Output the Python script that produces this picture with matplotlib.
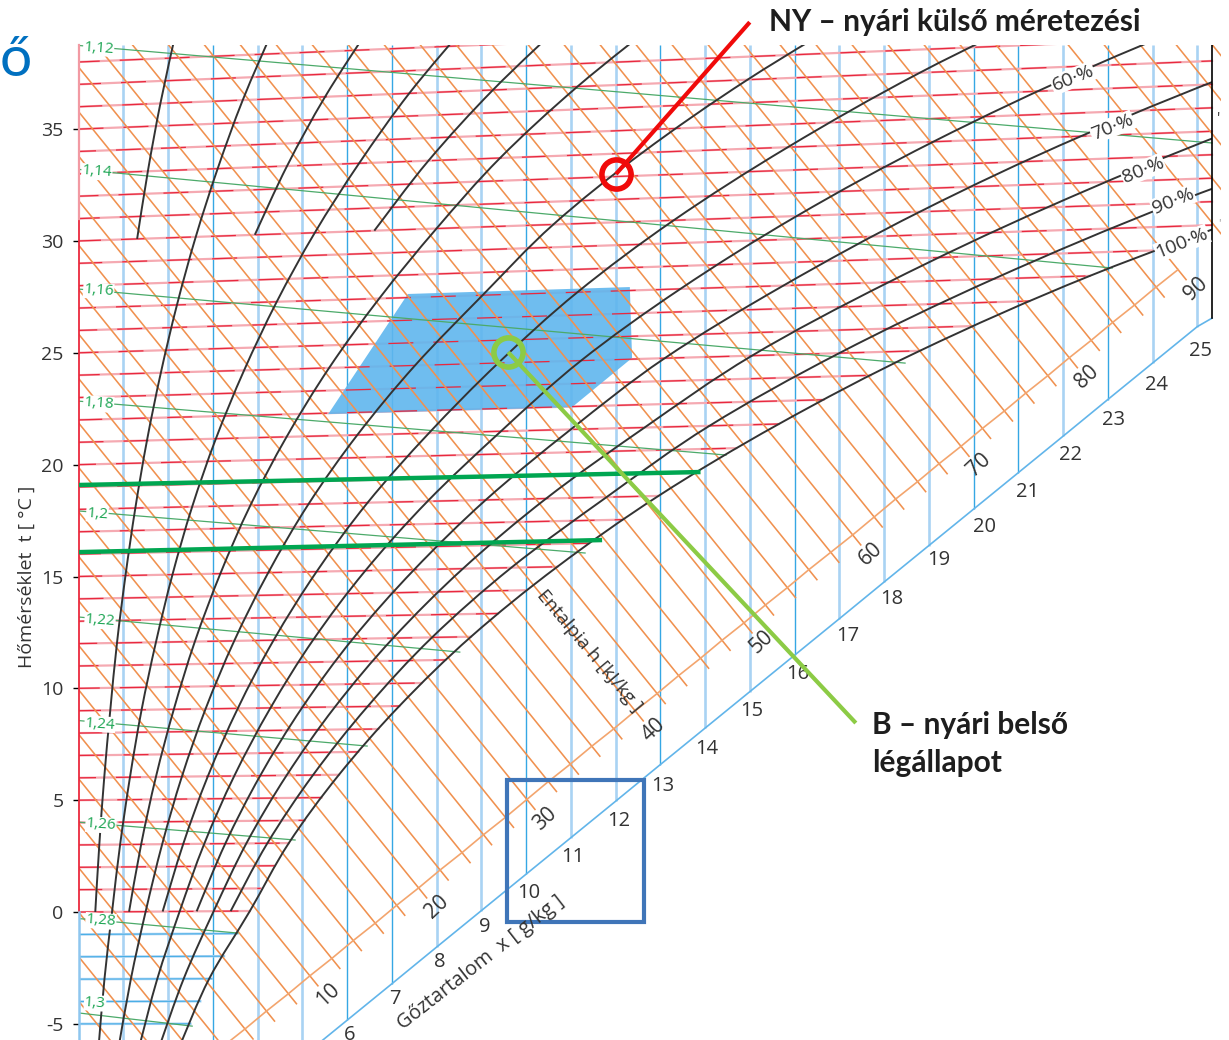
import numpy as np
import matplotlib
matplotlib.use("Agg")
import matplotlib.pyplot as plt
from matplotlib.transforms import Transform
from matplotlib.patches import Rectangle, Polygon, PathPatch
from matplotlib.path import Path

# ---- data ----
temp_ticks = [-5, 0, 5, 10, 15, 20, 25, 30, 35]
sat_t = list(range(-6, 29))
sat_x = [2.3, 2.5, 2.72, 2.98, 3.25, 3.55, 3.83, 4.07, 4.38, 4.7, 5.06, 5.43, 5.82, 6.25, 6.7, 7.17, 7.66,
         8.2, 8.77, 9.37, 10.0, 10.7, 11.4, 12.15, 12.96, 13.8, 14.7, 15.65, 16.65, 17.7, 18.8, 20.0, 21.25, 22.6, 24.0]
upper_isotherms = list(range(29, 40))

x_lines = list(range(1, 26))
x_line_end = [-13.0, -11.37, -9.73, -8.1, -6.47, -4.84, -3.21, -1.57, 0.06, 1.69, 3.32, 4.95, 6.59, 8.22, 9.85,
              11.48, 13.11, 14.75, 16.38, 18.01, 19.64, 21.27, 22.91, 24.54, 26.17]
x_bright = [3, 6, 7, 10, 13, 16, 20, 21, 23]
x_labels = list(range(6, 26))
x_label_dx = [3, 3, 3.5, 3, 3, 2, 3.5, 3, 2, 2, 3.5, 8, 8, 10, 10.5, 9, 7, 6, 3.5, 3]
x_label_dy = [15, 15.4, 15, 16, 19, 19, 20, 21, 21, 19, 19, 17, 17, 14, 17.5, 19, 18.4, 20, 22, 24]

h_axis = list(range(-6, 92, 2))
h_axis_x = [1.29, 1.77, 2.26, 2.75, 3.23, 3.72, 4.20, 4.69, 5.17, 5.66, 6.14, 6.63, 7.11, 7.6, 8.08, 8.57, 9.05,
            9.54, 10.02, 10.5, 10.99, 11.47, 11.96, 12.44, 12.93, 13.41, 13.9, 14.38, 14.87, 15.35, 15.84, 16.32,
            16.81, 17.3, 17.78, 18.26, 18.75, 19.23, 19.72, 20.2, 20.69, 21.17, 21.66, 22.14, 22.63, 23.11, 23.6,
            24.08, 24.57]
h_upper = list(range(94, 124, 2))
h_labels = [10, 20, 30, 40, 50, 60, 70, 80, 90]

t3 = [-6, -3, 0, 3, 6, 9, 12, 15, 18, 21, 24, 27, 30, 33, 36, 39]
rh05 = [1.31, 1.55, 1.83, 2.16]
rh10 = [.375, .465, .575, .71, .86, 1.05, 1.27, 1.53, 1.84, 2.20, 2.62, 3.11, 3.67, 4.33]
rh15 = [3.94, 4.66, 5.51, 6.51]
rh20 = [.45, .58, .75, .93, 1.15, 1.41, 1.73, 2.10, 2.54, 3.07, 3.70, 4.43, 5.28, 6.27, 7.39, 8.71]
rh25 = [6.61, 7.82, 9.26, 10.93]
rh30 = [1.13, 1.40, 1.73, 2.13, 2.60, 3.17, 3.84, 4.65, 5.60, 6.72, 8.0, 9.42, 11.15, 13.16]
rh40 = [.90, 1.17, 1.50, 1.87, 2.31, 2.84, 3.48, 4.24, 5.14, 6.23, 7.52, 9.03, 10.61, 12.6, 14.95, 17.67]
rh50 = [1.88, 2.34, 2.89, 3.56, 4.36, 5.32, 6.46, 7.83, 9.38, 11.15, 13.3, 15.85, 18.8, 22.26]
rh60 = [1.36, 1.76, 2.26, 2.81, 3.48, 4.29, 5.25, 6.41, 7.8, 9.44, 11.23, 13.45, 16.05, 19.1, 22.7, 26.9]
rh70 = [2.64, 3.28, 4.06, 5.00, 6.13, 7.5, 9.1, 11.0, 13.1, 15.75, 18.8, 22.4, 26.7, 31.7]
rh80 = [1.81, 2.35, 3.02, 3.75, 4.65, 5.73, 7.03, 8.59, 10.45, 12.65, 15.05, 18.1, 21.65, 25.8, 30.8]
rh90 = [3.40, 4.22, 5.24, 6.46, 7.9, 9.67, 11.8, 14.1, 17.0, 20.45, 24.5, 29.3]
rh100 = [2.26, 2.92, 3.83, 4.7, 5.82, 7.17, 8.77, 10.7, 12.96, 15.65, 18.8, 22.6, 27.2]

rh_labels = ["60·%", "70·%", "80·%", "90·%", "100·%"]
rh_label_x = [22.22, 23.1, 23.79, 24.46, 24.66]
rh_label_y = [37.28, 35.09, 33.17, 31.78, 29.9]

rho_labels = ["1,12", "1,14", "1,16", "1,18", "1,2", "1,22", "1,24", "1,26", "1,28", "1,3"]
rho_y0 = [38.74, 33.2, 27.85, 22.84, 17.93, 13.19, 8.56, 4.02, -0.29, -4.51]
rho_x1 = [25.33, 23.1, 18.47, 14.47, 11.32, 8.52, 6.45, 4.84, 3.56, 2.54]
rho_y1 = [34.38, 28.79, 24.54, 20.43, 16.05, 11.62, 7.42, 3.22, -0.94, -5.1]
rho_label_x = [0.45, 0.41, 0.45, 0.45, 0.42, 0.48, 0.48, 0.5, 0.5, 0.37]
rho_label_y = [38.62, 33.08, 27.76, 22.71, 17.79, 13.01, 8.4, 3.89, -0.4, -4.07]

zone_x = [7.36, 12.32, 12.37, 11.03, 5.58]
zone_y = [27.63, 27.94, 24.77, 22.57, 22.26]
bar_x = [0, 13.9, 0, 11.7]
bar_y = [19.09, 19.67, 16.09, 16.63]
ny_point = (12.01, 32.99)
ny_end = (15.0, 39.78)
b_point = (9.6, 25.03)
b_end = (17.37, 8.45)
box_x = (9.58, 12.64)
box_y = (-0.45, 5.9)

# ---- figure ----
W, H = 1229, 1040
plt.rcParams["font.family"] = ["Open Sans", "DejaVu Sans"]
fig = plt.figure(figsize=(W / 100, H / 100), dpi=100)
ax = fig.add_axes([78.5 / W, 0, 1142.5 / W, 995 / H])
ax.set_xlim(0, 25.53)
ax.set_ylim(-5.72, 38.76)
for s in ax.spines.values():
    s.set_visible(False)
ax.set_xticks([])


class Mollier(Transform):
    input_dims = output_dims = 2
    is_separable = False
    has_inverse = False

    def transform_non_affine(self, values):
        x, t = np.asarray(values).T
        return np.column_stack([x, t + x * (0.0121 + 0.00191 * t)])


mol = Mollier() + ax.transData
TEXT = "#333333"
XMAX = 25.33


def h_t(h, x):
    return (h - 2.501 * x) / (1.006 + 0.00186 * x)


def smooth_path(xs, ts):
    p = np.column_stack([xs, ts])
    verts, codes = [p[0]], [Path.MOVETO]
    for i in range(len(p) - 1):
        a = p[max(i - 1, 0)]
        d = p[min(i + 2, len(p) - 1)]
        verts += [p[i] + (p[i + 1] - a) / 6, p[i + 1] - (d - p[i]) / 6, p[i + 1]]
        codes += [Path.CURVE4] * 3
    return Path(verts, codes)


# moisture verticals
for x, end in zip(x_lines, x_line_end):
    bright = x in x_bright
    ax.plot([x, x], [end, 38.76], color="#35a7e4" if bright else "#a9d3f3",
            lw=1.0 if bright else 1.9, zorder=1, solid_capstyle="butt")

# isotherms: pale underlay, comfort zone above it, red streaks above that
for t, xs in list(zip(sat_t, sat_x)) + [(t, XMAX) for t in upper_isotherms]:
    if t >= 0:
        ax.plot([0, xs], [t, t], color="#f5aab2", lw=1.6, zorder=2, transform=mol)
        ax.plot([0, xs], [t, t], color="#e9283e", lw=0.9, ls=(t % 7, (20, 16)), zorder=2.5, transform=mol)
    else:
        ax.plot([0, xs], [t, t], color="#a9d3f3", lw=1.8, zorder=2, transform=mol)
        ax.plot([0, xs], [t, t], color="#35a7e4", lw=0.6, zorder=2, transform=mol)

zone_pts = list(zip(zone_x, zone_y))
ax.add_patch(Polygon(zone_pts, closed=True, fc="#5fb6ee", ec="none", alpha=0.9, zorder=2.2))

# enthalpy lines and their axis
for h, xe in zip(h_axis, h_axis_x):
    xe2 = xe + 0.18
    ax.plot([0, xe2], [h_t(h, 0), h_t(h, xe2)], color="#f0914f", lw=1.15, zorder=3, transform=mol)
for h in h_upper:
    ax.plot([0, 25.53], [h_t(h, 0), h_t(h, 25.53)], color="#f0914f", lw=1.15, zorder=3, transform=mol)
ax.plot(h_axis_x, [h_t(h, x) for h, x in zip(h_axis, h_axis_x)], color="#f3a56e", lw=1.2, zorder=3, transform=mol)
for h in h_labels:
    i = h_axis.index(h)
    xe = h_axis_x[i]
    ax.annotate(str(h), (xe, h_t(h, xe)), xycoords=mol, xytext=(18, -19), textcoords="offset pixels",
                ha="center", va="center", rotation=43, fontsize=15, color=TEXT, zorder=6)

# density lines
for y0, x1, y1 in zip(rho_y0, rho_x1, rho_y1):
    ax.plot([0, x1], [y0, y1], color="#4caa6a", lw=0.9, zorder=3)
for lab, x, y in zip(rho_labels, rho_label_x, rho_label_y):
    ax.text(x, y, lab, color="#1da553", fontsize=11, ha="center", va="center", rotation=-4, zorder=6,
            bbox=dict(fc="white", ec="none", pad=0.3))

# relative humidity curves
clip = Rectangle((0, -5.72), XMAX, 44.48, transform=ax.transData)
curves = [(rh05, t3[12:]), (rh10, t3[2:]), (rh15, t3[12:]), (rh20, t3), (rh25, t3[12:]), (rh30, t3[2:]),
          (rh40, t3), (rh50, t3[2:]), (rh60, t3), (rh70, t3[2:]), (rh80, t3[:15]), (rh90, t3[2:14]), (rh100, t3[:13])]
for xs, ts in curves:
    patch = PathPatch(smooth_path(xs, ts), fc="none", ec="#333333", lw=1.4, zorder=4, transform=mol)
    ax.add_patch(patch)
    patch.set_clip_path(clip)
for lab, x, y in zip(rh_labels, rh_label_x, rh_label_y):
    ax.text(x, y, lab, fontsize=14, color=TEXT, rotation=22, ha="center", va="center", zorder=6,
            bbox=dict(fc="white", ec="none", pad=0.6))

# left and right borders, lower axis
ax.plot([0, 0], [0, 31], color="#ea2a3e", lw=1.3, zorder=5, clip_on=False)
ax.plot([0, 0], [31, 38.76], color="#f29aa3", lw=1.6, zorder=5, clip_on=False)
ax.plot([0, 0], [-5.72, 0], color="#8ec6ef", lw=1.8, zorder=5, clip_on=False)
ax.plot([XMAX, XMAX], [26.55, 38.76], color="black", lw=1.2, zorder=5)
ax.plot(x_lines + [XMAX], x_line_end + [26.55], color="#62b5ea", lw=1.2, zorder=3)
for x, dx, dy in zip(x_labels, x_label_dx, x_label_dy):
    ax.annotate(str(x), (x, x_line_end[x - 1]), xytext=(dx, -dy), textcoords="offset pixels", ha="center",
                va="center", fontsize=14.5, color=TEXT, annotation_clip=False, zorder=6)

# temperature ticks
ax.set_yticks(temp_ticks)
ax.set_yticklabels([str(t) for t in temp_ticks], fontsize=14, color=TEXT)
ax.tick_params(axis="y", length=4.3, width=1, pad=6.5)
for tick, t in zip(ax.yaxis.get_major_ticks(), temp_ticks):
    tick.tick1line.set_color("#35a7e4" if t < 0 else "#ea3d50")

# axis titles
fig.text(27 / W, 1 - 577 / H, "Hőmérséklet  t [ °C ]", rotation=90, fontsize=14, color=TEXT, ha="center", va="center")
fig.text(589 / W, 1 - 651 / H, "Entalpia h [kJ/kg ]", rotation=-50, fontsize=13.8, color=TEXT, ha="center", va="center")
fig.text(481 / W, 1 - 963 / H, "Gőztartalom  x [ g/kg ]", rotation=38, fontsize=14.4, color=TEXT, ha="center",
         va="center", zorder=6)
fig.text(1219 / W, 1 - 119 / H, "'", fontsize=11, color=TEXT, ha="center", va="center")
fig.text(1219 / W, 1 - 224 / H, "'", fontsize=8, color="#999999", ha="center", va="center")

# overlays
ax.plot(bar_x[:2], bar_y[:2], color="#00a651", lw=3.2, zorder=8, solid_capstyle="butt")
ax.plot(bar_x[2:], bar_y[2:], color="#00a651", lw=3.2, zorder=8, solid_capstyle="butt")
ax.plot([ny_point[0], ny_end[0]], [ny_point[1], ny_end[1]], color="#f00a0a", lw=3.0, zorder=9, clip_on=False,
        solid_capstyle="butt")
ax.plot(*ny_point, "o", ms=21, mfc="none", mec="#f00a0a", mew=4.0, zorder=9)
ax.plot([b_point[0], b_end[0]], [b_point[1], b_end[1]], color="#8ccb45", lw=3.0, zorder=9, solid_capstyle="butt")
ax.plot(*b_point, "o", ms=21, mfc="none", mec="#8ccb45", mew=4.0, zorder=9)
ax.add_patch(Rectangle((box_x[0], box_y[0]), box_x[1] - box_x[0], box_y[1] - box_y[0], fc="none", ec="#3f75b8",
                       lw=3.0, zorder=9))

bold = dict(family="Lato", weight="bold", fontsize=21.5, color="#1e1e1e", ha="left", va="center")
fig.text(769 / W, 1 - 22 / H, "NY – nyári külső méretezési", **bold)
fig.text(872 / W, 1 - 725 / H, "B – nyári belső", **bold)
fig.text(872 / W, 1 - 763 / H, "légállapot", **bold)
fig.text(0, 1 - 76 / H, "ő", family="Lato", fontsize=41, color="#0070c0", ha="left", va="baseline")

fig.savefig("out.png", dpi=100)
